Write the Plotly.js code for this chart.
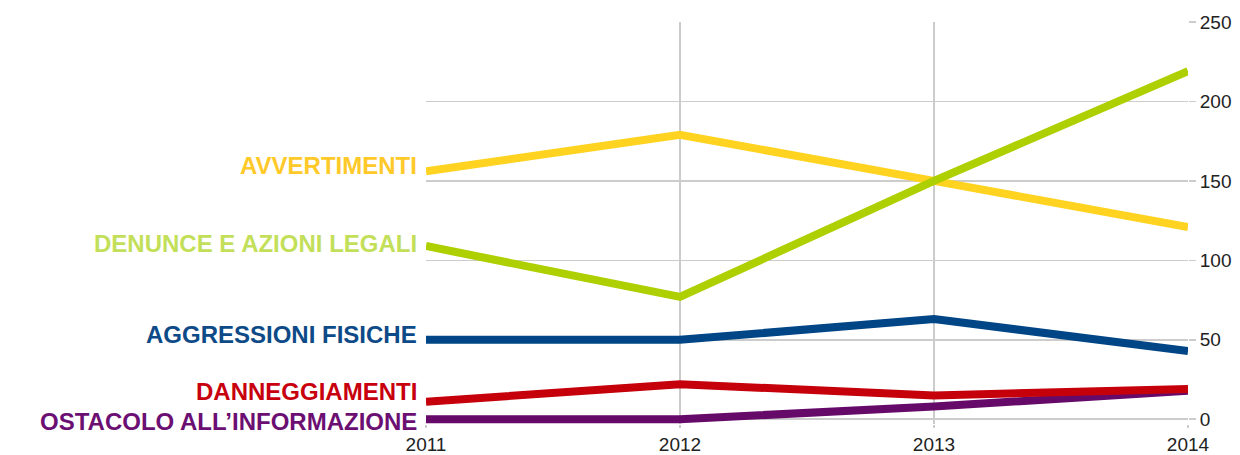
<!DOCTYPE html>
<html>
<head>
<meta charset="utf-8">
<script src="https://cdn.plot.ly/plotly-3.0.1.min.js"></script>
<style>html,body{margin:0;padding:0;background:#fff}#chart{width:1240px;height:455px}</style>
</head>
<body>
<div id="chart"></div>
<script>
const years = [2011, 2012, 2013, 2014];
const seriesNames = ["AVVERTIMENTI", "DENUNCE E AZIONI LEGALI", "AGGRESSIONI FISICHE", "DANNEGGIAMENTI", "OSTACOLO ALL\u2019INFORMAZIONE"];
const avvertimenti = [156, 179, 150, 121];
const denunce = [109, 77, 150, 219];
const aggressioni = [50, 50, 63, 43];
const danneggiamenti = [11, 22, 15, 19];
const ostacolo = [0, 0, 8, 18];
const lineColors = ["#ffd320", "#aecf00", "#004586", "#c5000b", "#660a6a"];
const labelColors = ["#ffc929", "#c3df5a", "#0d4a87", "#c8000e", "#6b0f72"];
const labelShift = [6, 3, 5, 10, -2];
const yTicks = [0, 50, 100, 150, 200, 250];

const values = [avvertimenti, denunce, aggressioni, danneggiamenti, ostacolo];
const order = [4, 3, 2, 0, 1];
const traces = order.map(i => ({
  x: years, y: values[i], type: 'scatter', mode: 'lines', name: seriesNames[i],
  line: {color: lineColors[i], width: 8}, hoverinfo: 'skip'
}));

const annotations = values.map((v, i) => ({
  xref: 'paper', yref: 'y', x: 0, y: v[0], xanchor: 'right', yanchor: 'middle',
  xshift: -8, yshift: labelShift[i], showarrow: false, borderpad: 0,
  text: '<b>' + seriesNames[i] + '</b>',
  font: {family: 'Liberation Sans, Arial, sans-serif', size: 24, color: labelColors[i]}
}));

const layout = {
  width: 1240, height: 455,
  margin: {l: 426, r: 52, t: 22, b: 31},
  paper_bgcolor: '#fff', plot_bgcolor: '#fff',
  showlegend: false,
  xaxis: {
    range: [2011, 2014], tickvals: years, ticktext: years.map(String),
    showgrid: true, gridcolor: '#cccccc', gridwidth: 1.5, zeroline: false,
    ticks: 'outside', ticklen: 3, tickwidth: 1.5, tickcolor: '#cccccc', showline: false,
    tickfont: {family: 'Liberation Sans, Arial, sans-serif', size: 19, color: '#222'}
  },
  yaxis: {
    range: [-3, 250], side: 'right', tickvals: yTicks,
    showgrid: true, gridcolor: '#cccccc', gridwidth: 1.5, zeroline: false,
    ticks: 'outside', ticklen: 7, tickwidth: 1.5, tickcolor: '#cccccc', showline: false,
    tickfont: {family: 'Liberation Sans, Arial, sans-serif', size: 19, color: '#222'}
  },
  annotations: annotations
};

Plotly.newPlot('chart', traces, layout, {displayModeBar: false, staticPlot: true});
</script>
</body>
</html>
